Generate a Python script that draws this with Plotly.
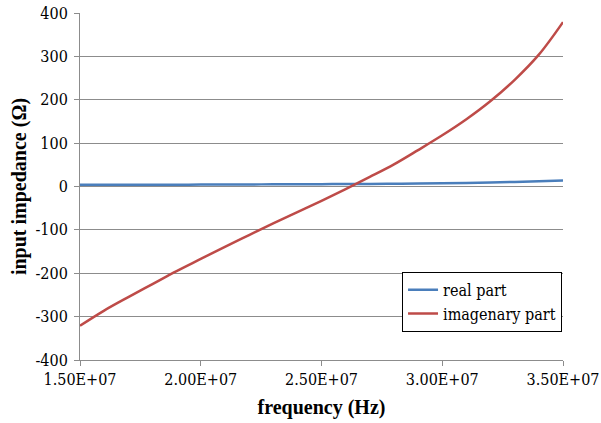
import plotly.graph_objects as go

freq = [1.5e7, 1.6e7, 1.7e7, 1.8e7, 1.9e7, 2.0e7, 2.1e7, 2.2e7, 2.3e7, 2.4e7, 2.5e7,
        2.6e7, 2.7e7, 2.8e7, 2.9e7, 3.0e7, 3.1e7, 3.2e7, 3.3e7, 3.4e7, 3.5e7]
real_part = [4, 4, 4, 4, 4.2, 4.4, 4.6, 4.8, 5, 5.2, 5.4,
             5.7, 6, 6.4, 6.9, 7.5, 8.3, 9.3, 10.5, 12, 14]
imag_part = [-321, -286, -255, -225, -195, -167, -139, -112, -85, -59, -33,
             -6, 22, 51, 84, 118, 155, 197, 246, 304, 379]

x_tickvals = [1.5e7, 2.0e7, 2.5e7, 3.0e7, 3.5e7]
x_ticktext = ["1.50E+07", "2.00E+07", "2.50E+07", "3.00E+07", "3.50E+07"]
y_tickvals = [-400, -300, -200, -100, 0, 100, 200, 300, 400]
y_ticktext = ["-400", "-300", "-200", "-100", "0", "100", "200", "300", "400"]

FONT = "Liberation Serif"
TICKFONT = "DejaVu Serif Condensed, DejaVu Serif"
GRID = "#8c8c8c"

fig = go.Figure()
fig.add_trace(go.Scatter(x=freq, y=real_part, mode="lines", name="real part",
                         line=dict(color="#4A7EBB", width=2.5, shape="spline")))
fig.add_trace(go.Scatter(x=freq, y=imag_part, mode="lines", name="imagenary part",
                         line=dict(color="#BE4B48", width=2.5, shape="spline")))

fig.update_layout(
    width=601, height=423,
    margin=dict(l=80, r=38, t=13, b=63),
    paper_bgcolor="white", plot_bgcolor="white",
    font=dict(family=TICKFONT, size=16, color="black"),
    showlegend=True,
    legend=dict(x=0.998, y=0.254, xanchor="right", yanchor="top",
                bgcolor="white", bordercolor="black", borderwidth=1,
                font=dict(family=TICKFONT, size=16, color="black"),
                itemwidth=30, tracegroupgap=0),
    xaxis=dict(range=[1.5e7, 3.5e7], tickvals=x_tickvals, ticktext=x_ticktext,
               automargin=False, ticklabeloverflow="allow",
               tickfont=dict(family=TICKFONT, size=16),
               showgrid=False, zeroline=False, showline=True, linecolor=GRID,
               linewidth=1, ticks="outside", ticklen=5, tickcolor=GRID,
               title=dict(text="<b>frequency (Hz)</b>", standoff=11,
                          font=dict(family=FONT, size=20))),
    yaxis=dict(range=[-400, 400], tickvals=y_tickvals, ticktext=y_ticktext,
               automargin=False, ticklabelstandoff=3,
               tickfont=dict(family=TICKFONT, size=16),
               showgrid=True, gridcolor=GRID, gridwidth=1,
               zeroline=True, zerolinecolor=GRID, zerolinewidth=1,
               showline=True, linecolor=GRID, linewidth=1,
               ticks="outside", ticklen=5, tickcolor=GRID,
               title=dict(text="<b>input impedance (Ω)</b>", standoff=3,
                          font=dict(family=FONT, size=20))),
)

fig.write_html("out.html", post_script="document.body.style.margin='0';",
               config={"displayModeBar": False})
